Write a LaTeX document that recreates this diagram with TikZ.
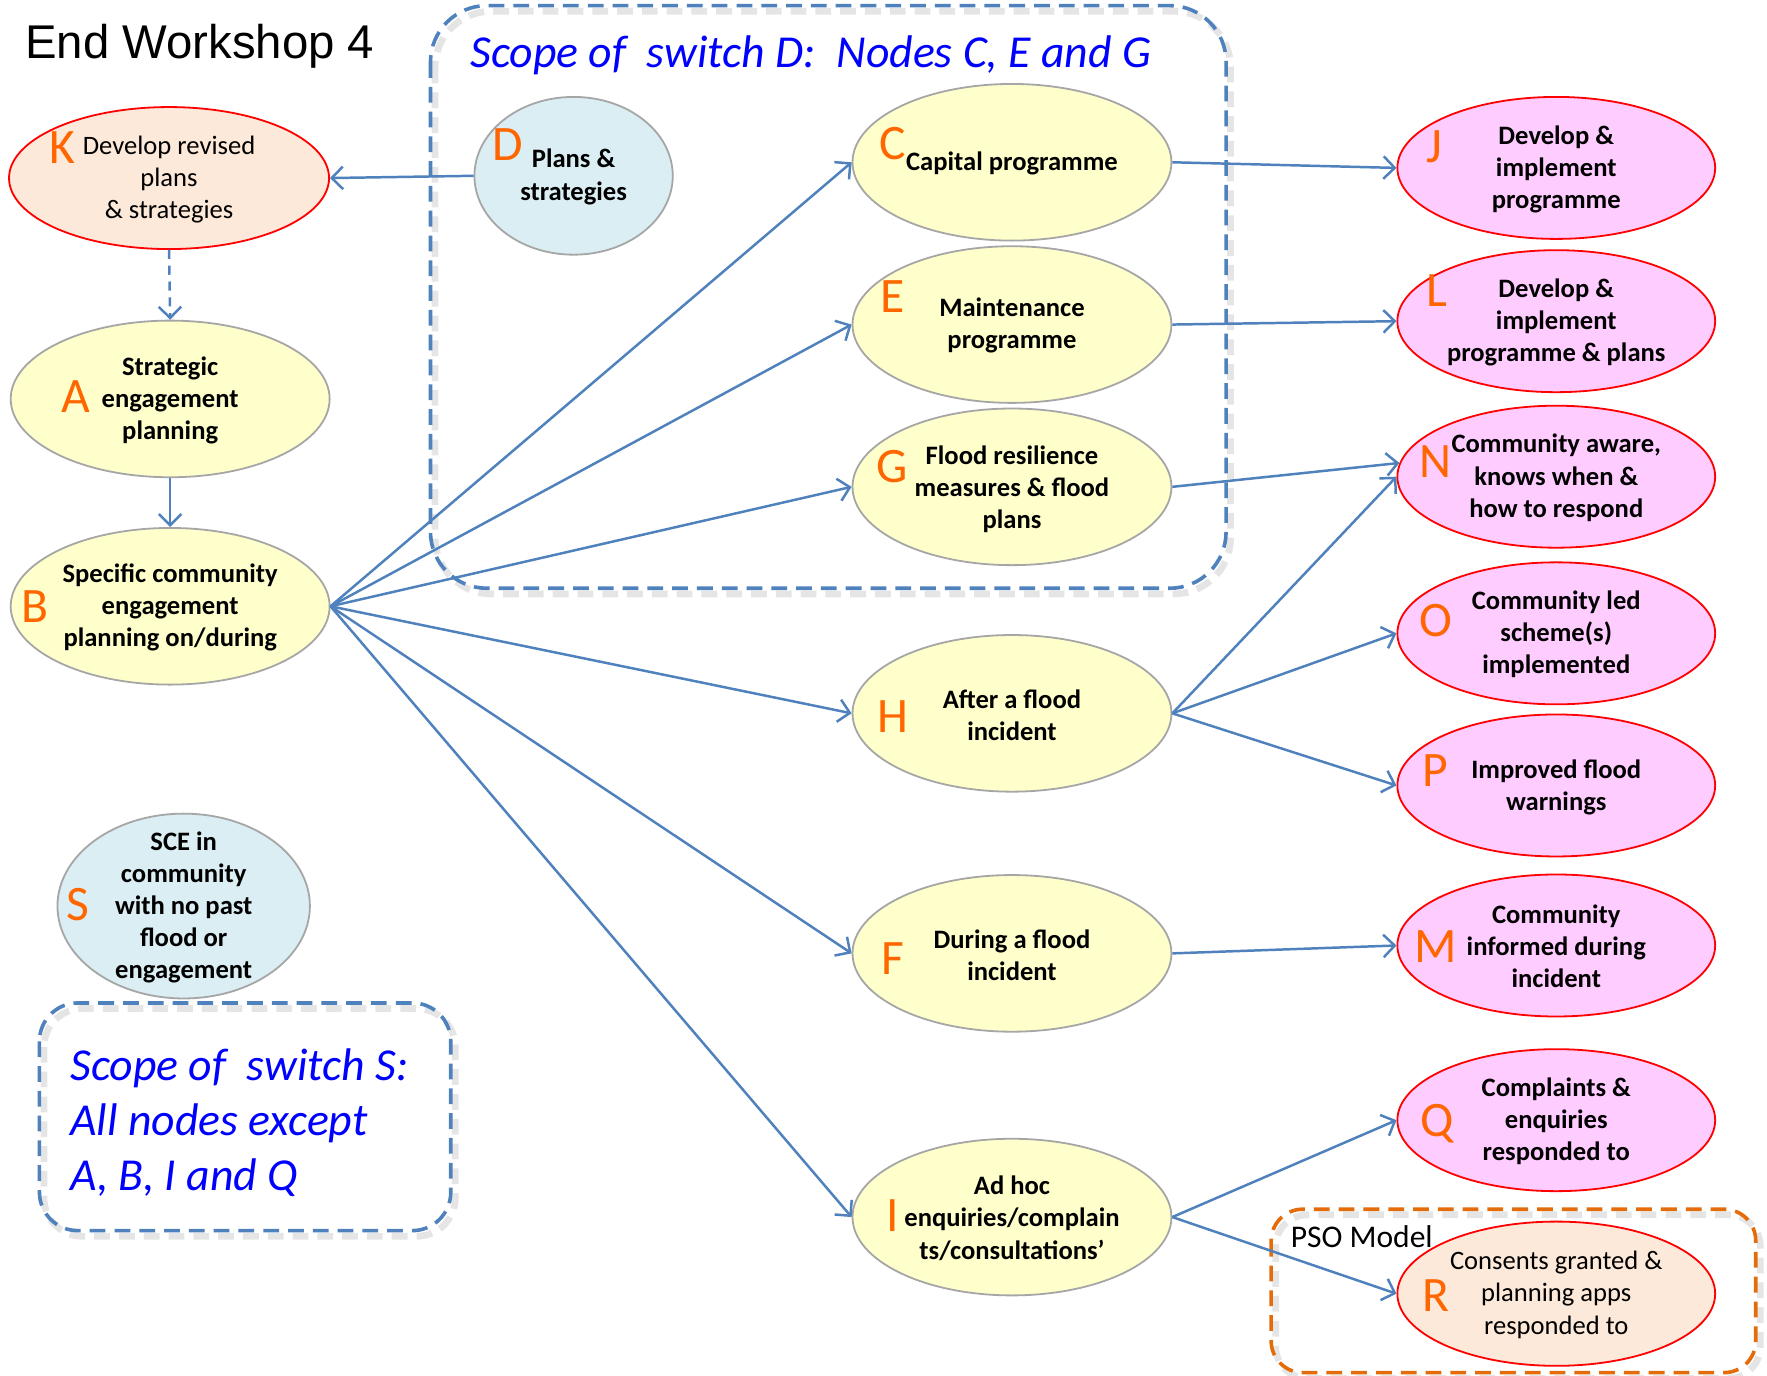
\documentclass[tikz,border=0pt]{standalone}
\usepackage{fontspec}
\setmainfont{Carlito}
\newfontfamily\arialfont{Liberation Sans}
\usetikzlibrary{shapes.geometric,arrows.meta}
\definecolor{lineblue}{HTML}{4F81BD}
\definecolor{yfill}{HTML}{FFFFCC}
\definecolor{pfill}{HTML}{FFCCFF}
\definecolor{peach}{HTML}{FDE9D9}
\definecolor{lblue}{HTML}{DAEEF3}
\definecolor{gstroke}{HTML}{A6A6A6}
\definecolor{letterorange}{HTML}{FF6600}
\definecolor{scopeblue}{HTML}{0000FF}
\definecolor{psoorange}{HTML}{E46C0A}
\begin{document}
\begin{tikzpicture}[x=0.5pt,y=-0.5pt,
  yel/.style={ellipse,draw=gstroke,line width=0.8pt,fill=yfill,minimum width=141.5pt,minimum height=69.5pt,inner sep=0pt},
  pnk/.style={ellipse,draw=red,line width=0.8pt,fill=pfill,minimum width=141pt,minimum height=63pt,inner sep=0pt},
  pch/.style={ellipse,draw=red,line width=0.8pt,fill=peach,minimum width=141pt,minimum height=63pt,inner sep=0pt},
  blu/.style={ellipse,draw=gstroke,line width=0.8pt,fill=lblue,inner sep=0pt},
  txt/.style={align=center,font=\bfseries\fontsize{11.8}{14.25}\selectfont,inner sep=0pt},
  rtxt/.style={align=center,font=\fontsize{11.8}{14.25}\selectfont,inner sep=0pt},
  ltr/.style={text=letterorange,font=\fontsize{22}{22}\selectfont,inner sep=0pt},
  arr/.style={draw=lineblue,line width=1.1pt,-{Straight Barb[length=5pt,width=10pt]}},
  scopebox/.style={draw=lineblue,line width=1.6pt,dash pattern=on 7pt off 4pt},
  scopeshadow/.style={draw=black,opacity=0.1,line width=3pt,dash pattern=on 7pt off 4pt},
  scopetxt/.style={text=scopeblue,font=\itshape\fontsize{20.3}{24.5}\selectfont,inner sep=0pt,anchor=base west},
]
\useasboundingbox (0,0) rectangle (1568,1221);
\fill[white] (0,0) rectangle (1568,1221);

% title
\node[anchor=base west,inner sep=0pt,font=\arialfont\fontsize{21}{21}\selectfont] (title) at (22,52) {End Workshop 4};

% scope boxes (shadows first)
\draw[scopeshadow,rounded corners=25pt] (386,10) rectangle (1092,527);
\draw[scopebox,rounded corners=25pt] (382,5) rectangle (1088,522);
\draw[scopeshadow,rounded corners=17pt] (39,895) rectangle (404,1097);
\draw[scopebox,rounded corners=17pt] (35,890) rectangle (400,1092);
\draw[scopeshadow,rounded corners=14pt] (1132,1078) rectangle (1562,1223);
\draw[draw=psoorange,line width=1.6pt,dash pattern=on 7pt off 4pt,rounded corners=14pt] (1128,1073) rectangle (1558,1218);

% scope texts
\node[scopetxt] (scD) at (417,60) {Scope of\ \ switch D:\ \ Nodes C, E and G};
\node[scopetxt] (scS1) at (62,959) {Scope of\ \ switch S:};
\node[scopetxt] (scS2) at (62,1008) {All nodes except};
\node[scopetxt] (scS3) at (62,1056) {A, B, I and Q};
\node[anchor=base west,inner sep=0pt,font=\fontsize{14}{14}\selectfont] (pso) at (1145,1107) {PSO Model};

% left column
\node[pch,minimum width=142pt,minimum height=63pt] (K) at (150,158) {};
\node[rtxt] (Kt) at (150,159) {Develop revised\\plans\\\& strategies};
\node[ltr] (Kl) at (55,131) {K};

\node[blu,minimum width=88pt,minimum height=70pt] (D) at (509,156) {};
\node[txt] (Dt) at (509,157) {Plans \&\\strategies};
\node[ltr] (Dl) at (451,128) {D};

\node[yel] (A) at (151,354) {};
\node[txt] (At) at (151,355) {Strategic\\engagement\\planning};
\node[ltr] (Al) at (67,352) {A};

\node[yel] (B) at (151,538) {};
\node[txt] (Bt) at (151,539) {Specific community\\engagement\\planning on/during};
\node[ltr] (Bl) at (31,538) {B};

\node[blu,minimum width=112pt,minimum height=82pt] (S) at (163,804) {};
\node[txt] (St) at (163,805) {SCE in\\community\\with no past\\flood or\\engagement};
\node[ltr] (Sl) at (69,803) {S};

% middle column
\node[yel] (C) at (898,144) {};
\node[txt] (Ct) at (898,145) {Capital programme};
\node[ltr] (Cl) at (792,127) {C};

\node[yel] (E) at (898,288) {};
\node[txt] (Et) at (898,289) {Maintenance\\programme};
\node[ltr] (El) at (792,263) {E};

\node[yel] (G) at (898,432) {};
\node[txt] (Gt) at (898,434) {Flood resilience\\measures \& flood\\plans};
\node[ltr] (Gl) at (792,414) {G};

\node[yel] (H) at (898,633) {};
\node[txt] (Ht) at (898,635) {After a flood\\incident};
\node[ltr] (Hl) at (792,636) {H};

\node[yel] (F) at (898,846) {};
\node[txt] (Ft) at (898,848) {During a flood\\incident};
\node[ltr] (Fl) at (792,851) {F};

\node[yel] (I) at (898,1080) {};
\node[txt] (It) at (898,1081) {Ad hoc\\enquiries/complain\\ts/consultations’};
\node[ltr] (Il) at (792,1079) {I};

% right column
\node[pnk] (J) at (1381,149) {};
\node[txt] (Jt) at (1381,150) {Develop \&\\implement\\programme};
\node[ltr] (Jl) at (1273,130) {J};

\node[pnk] (L) at (1381,285) {};
\node[txt] (Lt) at (1381,286) {Develop \&\\implement\\programme \& plans};
\node[ltr] (Ll) at (1275,258) {L};

\node[pnk] (N) at (1381,423) {};
\node[txt] (Nt) at (1381,424) {Community aware,\\knows when \&\\how to respond};
\node[ltr] (Nl) at (1274,410) {N};

\node[pnk] (O) at (1381,562) {};
\node[txt] (Ot) at (1381,563) {Community led\\scheme(s)\\implemented};
\node[ltr] (Ol) at (1274,551) {O};

\node[pnk] (P) at (1381,697) {};
\node[txt] (Pt) at (1381,699) {Improved flood\\warnings};
\node[ltr] (Pl) at (1274,684) {P};

\node[pnk] (M) at (1381,839) {};
\node[txt] (Mt) at (1381,840) {Community\\informed during\\incident};
\node[ltr] (Ml) at (1274,840) {M};

\node[pnk] (Q) at (1381,994) {};
\node[txt] (Qt) at (1381,995) {Complaints \&\\enquiries\\responded to};
\node[ltr] (Ql) at (1275,997) {Q};

\node[pch,minimum height=64pt] (R) at (1381,1148) {};
\node[rtxt] (Rt) at (1381,1149) {Consents granted \&\\planning apps\\responded to};
\node[ltr] (Rl) at (1274,1150) {R};

% connectors
\draw[arr] (D.west) -- (K.east);
\draw[arr,dash pattern=on 4pt off 3pt] (K.south) -- (A.north);
\draw[arr] (A.south) -- (B.north);
\draw[arr] (B.east) -- (C.west);
\draw[arr] (B.east) -- (E.west);
\draw[arr] (B.east) -- (G.west);
\draw[arr] (B.east) -- (H.west);
\draw[arr] (B.east) -- (F.west);
\draw[arr] (B.east) -- (I.west);
\draw[arr] (C.east) -- (J.west);
\draw[arr] (E.east) -- (L.west);
\draw[arr] (G.east) -- (N.175);
\draw[arr] (H.east) -- (N.west);
\draw[arr] (H.east) -- (O.west);
\draw[arr] (H.east) -- (P.west);
\draw[arr] (F.east) -- (M.west);
\draw[arr] (I.east) -- (Q.west);
\draw[arr] (I.east) -- (R.west);
\end{tikzpicture}
\end{document}
